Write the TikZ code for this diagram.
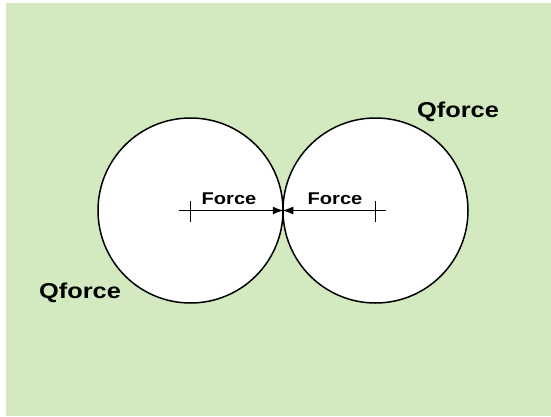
\documentclass[tikz,border=0pt]{standalone}
\usepackage{fontspec}
\setmainfont{Liberation Sans}
\newfontfamily\diagfont[FakeStretch=1.18]{Liberation Sans}
\usetikzlibrary{
  positioning,
  arrows.meta
}
\definecolor{bgGreen}{HTML}{D3EAC0}
\tikzset{
  ball/.style       = {circle, draw=black, fill=white, line width=1.5pt,
                       minimum size=185pt, inner sep=0pt},
  forceArrow/.style = {-{Latex[length=11pt,width=8pt]}, line width=1.5pt},
  tickmark/.style   = {line width=1.5pt},
  forceText/.style  = {inner sep=0pt, anchor=base,
                       font=\diagfont\bfseries\fontsize{17}{20}\selectfont},
  qText/.style      = {inner sep=0pt, anchor=base,
                       font=\diagfont\bfseries\fontsize{21.5}{25}\selectfont}
}

\begin{document}
\begin{tikzpicture}[x=1pt, y=1pt]
\useasboundingbox (0,0) rectangle (551,416);
\fill[bgGreen] (6,0) rectangle (551,413);

% the two balls, touching
\node[ball] (lball) at (190.5,205.5) {};
\node[ball] (rball) at (375.5,205.5) {};

\coordinate[left=12pt of lball.center]  (ltail);
\coordinate[right=10pt of rball.center] (rtail);

\draw[tickmark] ([yshift=10pt]lball.center) -- ([yshift=-11pt]lball.center);
\draw[tickmark] ([yshift=10pt]rball.center) -- ([yshift=-11pt]rball.center);

\draw[forceArrow] (ltail) -- (lball.east);
\draw[forceArrow] (rtail) -- (rball.west);

\node[forceText] (lforce) at (229,212) {Force};
\node[forceText] (rforce) at (335,212) {Force};

\node[qText] (lq) at (80,118) {Qforce};
\node[qText] (rq) at (458,299) {Qforce};
\end{tikzpicture}
\end{document}
